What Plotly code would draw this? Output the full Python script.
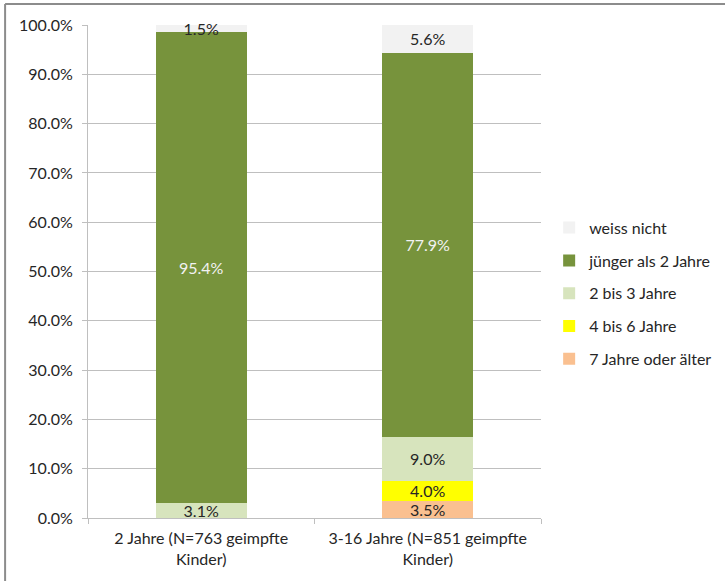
import plotly.graph_objects as go

categories = ["2 Jahre (N=763 geimpfte<br>Kinder)", "3-16 Jahre (N=851 geimpfte<br>Kinder)"]
series_names = ["7 Jahre oder älter", "4 bis 6 Jahre", "2 bis 3 Jahre", "jünger als 2 Jahre", "weiss nicht"]
s_7plus = [None, 0.035]
s_4to6 = [None, 0.040]
s_2to3 = [0.031, 0.090]
s_under2 = [0.954, 0.779]
s_unknown = [0.015, 0.056]
colors = ["#FAC090", "#FFFF00", "#D7E4BD", "#77933C", "#F2F2F2"]
text_colors = ["#262626", "#262626", "#262626", "#F2F2F2", "#262626"]

font_family = "Lato, 'Open Sans', sans-serif"
fig = go.Figure()
n = len(series_names)
for i, (name, vals, col, tc) in enumerate(zip(series_names, [s_7plus, s_4to6, s_2to3, s_under2, s_unknown], colors, text_colors)):
    fig.add_trace(go.Bar(
        x=categories, y=vals, name=name, legendgroup=name, legendrank=(n - i) * 10,
        marker=dict(color=col, line=dict(width=0)),
        texttemplate="%{y:.1%}", textposition="inside", insidetextanchor="middle",
        textfont=dict(color=tc, size=16, family=font_family),
        cliponaxis=False, hoverinfo="skip",
    ))

fig.update_layout(
    barmode="stack", bargap=0.6,
    width=725, height=581,
    margin=dict(l=88, r=184, t=25, b=63, autoexpand=False),
    paper_bgcolor="white", plot_bgcolor="white",
    font=dict(family=font_family, size=16, color="#262626"),
    uniformtext=dict(mode="show", minsize=16),
    showlegend=True,
    legend=dict(traceorder="grouped", x=1.018, xanchor="left", y=0.456, yanchor="middle",
                tracegroupgap=9, font=dict(size=16, color="#262626"),
                itemwidth=30, bgcolor="rgba(0,0,0,0)"),
    shapes=[
        dict(type="line", xref="paper", yref="paper", x0=-0.183, x1=1.45, y0=1.0426, y1=1.0426,
             line=dict(color="#8c8c8c", width=2)),
        dict(type="line", xref="paper", yref="paper", x0=-0.183, x1=-0.183, y0=1.0426, y1=-0.2,
             line=dict(color="#8c8c8c", width=2)),
    ],
)
fig.update_yaxes(range=[0, 1], dtick=0.1, tickformat=".1%", showgrid=True, gridcolor="#BFBFBF",
                 gridwidth=1, showline=True, linecolor="#BFBFBF", ticks="outside", ticklen=5,
                 tickcolor="#BFBFBF", zeroline=False, fixedrange=True, ticklabelstandoff=6)
fig.update_xaxes(showline=True, linecolor="#BFBFBF", ticks="outside", ticklen=5, tickcolor="#BFBFBF",
                 tickson="boundaries", fixedrange=True, ticklabelstandoff=6)

fig.write_html("out.html", config={"displayModeBar": False},
               post_script="document.body.style.margin='0';document.body.style.overflow='hidden';")
